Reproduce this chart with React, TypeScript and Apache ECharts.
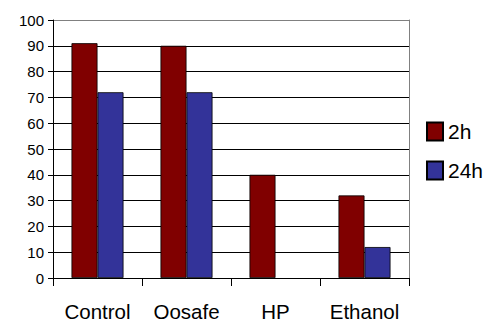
import React, { useEffect, useRef } from "react";
import * as echarts from "echarts";

const categories = ["Control", "Oosafe", "HP", "Ethanol"];
const series2h = [91, 90, 40, 32];
const series24h = [72, 72, 0, 12];
const seriesNames = ["2h", "24h"];

const toData = (arr: number[]) =>
  arr.map((v) => (v === 0 ? { value: v, itemStyle: { borderWidth: 0 } } : v));

export default function App() {
  const ref = useRef<HTMLDivElement>(null);
  useEffect(() => {
    const chart = echarts.init(ref.current!, null, { renderer: "svg" });
    const font = "'Liberation Sans', Arial, sans-serif";
    const gridColors = ["#000", "#000", "#000", "#000", "#000", "#000", "#000", "#000", "#000", "#000", "#808080"];
    chart.setOption({
      animation: false,
      backgroundColor: "#fff",
      grid: { left: 53, top: 20, right: 88, bottom: 46, containLabel: false },
      legend: {
        orient: "vertical",
        left: 421,
        top: 116,
        itemWidth: 16,
        itemHeight: 18,
        itemGap: 18,
        icon: "rect",
        textStyle: { fontFamily: font, fontSize: 21, color: "#000" },
        data: seriesNames,
      },
      xAxis: {
        type: "category",
        data: categories,
        axisLine: { lineStyle: { color: "#000", width: 1 } },
        axisTick: { show: true, interval: 0, length: 8, lineStyle: { color: "#000" }, alignWithLabel: false },
        axisLabel: { interval: 0, fontFamily: font, fontSize: 20.5, color: "#000", margin: 23 },
        splitLine: { show: false },
      },
      yAxis: [
        {
          type: "value",
          min: 0,
          max: 100,
          interval: 10,
          axisLine: { show: true, lineStyle: { color: "#000" } },
          axisTick: { show: true, length: 5, lineStyle: { color: "#000" } },
          axisLabel: { fontFamily: font, fontSize: 15, color: "#000", margin: 9 },
          splitLine: { show: true, lineStyle: { color: gridColors, width: 1 } },
        },
        {
          type: "value",
          position: "right",
          min: 0,
          max: 100,
          interval: 10,
          axisLine: { show: true, lineStyle: { color: "#808080" } },
          axisTick: { show: false },
          axisLabel: { show: false },
          splitLine: { show: false },
        },
      ],
      series: [
        {
          name: seriesNames[0],
          type: "bar",
          data: toData(series2h),
          barWidth: 26,
          barGap: "0%",
          itemStyle: { color: "#800000", borderColor: "#000", borderWidth: 0.8 },
        },
        {
          name: seriesNames[1],
          type: "bar",
          data: toData(series24h),
          barWidth: 26,
          barGap: "0%",
          itemStyle: { color: "#333399", borderColor: "#000", borderWidth: 0.8 },
        },
      ],
    });
    return () => chart.dispose();
  }, []);
  return (
    <div
      ref={ref}
      style={{ position: "fixed", left: 0, top: 0, width: 497, height: 324 }}
    />
  );
}
